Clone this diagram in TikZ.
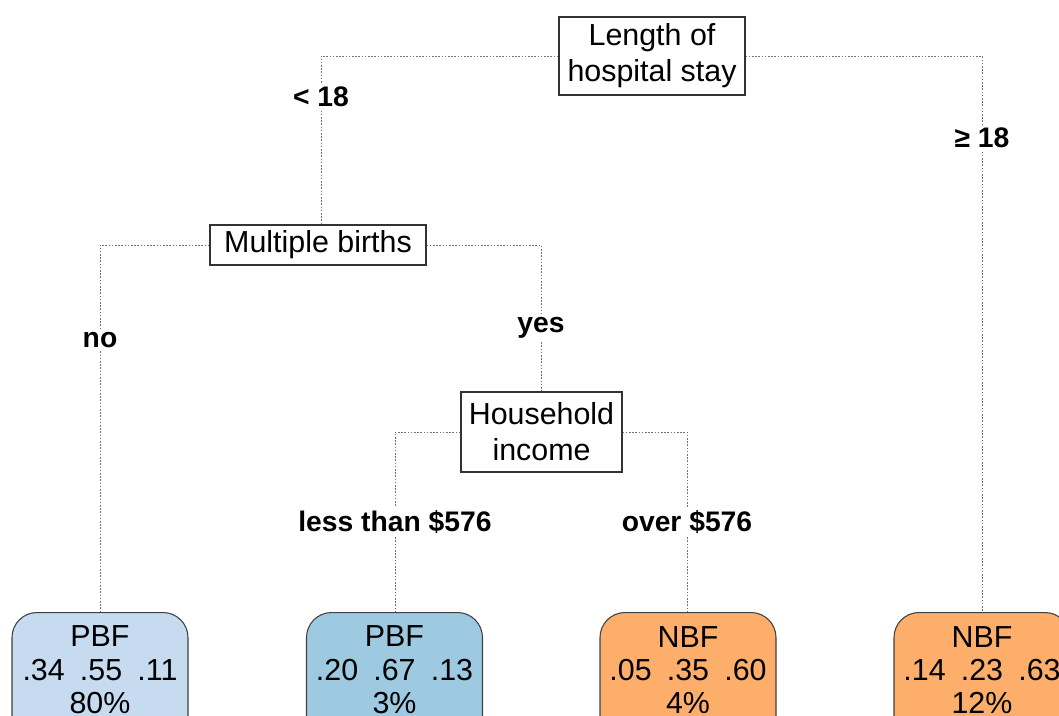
\documentclass[tikz,border=0pt]{standalone}
\usepackage{fontspec}
\setmainfont{Liberation Sans}
\definecolor{leafA}{HTML}{C6DBEF}
\definecolor{leafB}{HTML}{9ECAE1}
\definecolor{leafC}{HTML}{FDAE6B}
\begin{document}
\begin{tikzpicture}[x=0.75pt,y=-0.75pt,
  split/.style={draw=black!80, line width=0.8pt, fill=white, align=center,
    font=\fontsize{22.8}{27}\selectfont, inner sep=0pt},
  leafbox/.style={draw=black!75, line width=0.8pt, rounded corners=18.75pt,
    minimum width=132pt, minimum height=105pt, anchor=north, inner sep=0pt},
  leaftext/.style={align=center, font=\fontsize{22.8}{25}\selectfont, inner sep=0pt},
  cond/.style={font=\bfseries\fontsize{21.2}{24}\selectfont, inner sep=2.5pt},
  link/.style={draw=black!55, line width=0.6pt, dash pattern=on 1.2pt off 1.2pt}]

\useasboundingbox (0,0) rectangle (1059,716);

% split nodes
\node[split, minimum width=139.5pt, minimum height=58.5pt] (root) at (652,56) {Length of\\hospital stay};
\node[split, minimum width=162pt, minimum height=30pt] (mb) at (318,245) {Multiple births};
\node[split, minimum width=120.75pt, minimum height=60pt] (hi) at (541.5,432) {Household\\income};

% leaves
\node[leafbox, fill=leafA] (leafA) at (100,612) {};
\node[leafbox, fill=leafB] (leafB) at (394.5,612) {};
\node[leafbox, fill=leafC] (leafC) at (688,612) {};
\node[leafbox, fill=leafC] (leafD) at (982,612) {};
\node[leaftext] (tA) at (100,670) {PBF\\.34\hspace{0.5em}.55\hspace{0.5em}.11\\80\%};
\node[leaftext] (tB) at (394.5,670) {PBF\\.20\hspace{0.5em}.67\hspace{0.5em}.13\\3\%};
\node[leaftext] (tC) at (688,670) {NBF\\.05\hspace{0.5em}.35\hspace{0.5em}.60\\4\%};
\node[leaftext] (tD) at (982,670) {NBF\\.14\hspace{0.5em}.23\hspace{0.5em}.63\\12\%};

% condition labels
\node[cond] (c1) at (321,97) {< 18};
\node[cond] (c2) at (982,138) {≥ 18};
\node[cond] (c3) at (100,340) {no};
\node[cond] (c4) at (541,328) {yes};
\node[cond] (c5) at (395,522) {less than \$576};
\node[cond] (c6) at (687,522) {over \$576};

% connectors
\draw[link] (root.west) -| (c1.north);
\draw[link] (c1.south) -- (c1.south |- mb.north);
\draw[link] (root.east) -| (c2.north);
\draw[link] (c2.south) -- (c2.south |- leafD.north);
\draw[link] (mb.west) -| (c3.north);
\draw[link] (c3.south) -- (c3.south |- leafA.north);
\draw[link] (mb.east) -| (c4.north);
\draw[link] (c4.south) -- (c4.south |- hi.north);
\draw[link] (hi.west) -| (c5.north);
\draw[link] (c5.south) -- (c5.south |- leafB.north);
\draw[link] (hi.east) -| (c6.north);
\draw[link] (c6.south) -- (c6.south |- leafC.north);
\end{tikzpicture}
\end{document}
